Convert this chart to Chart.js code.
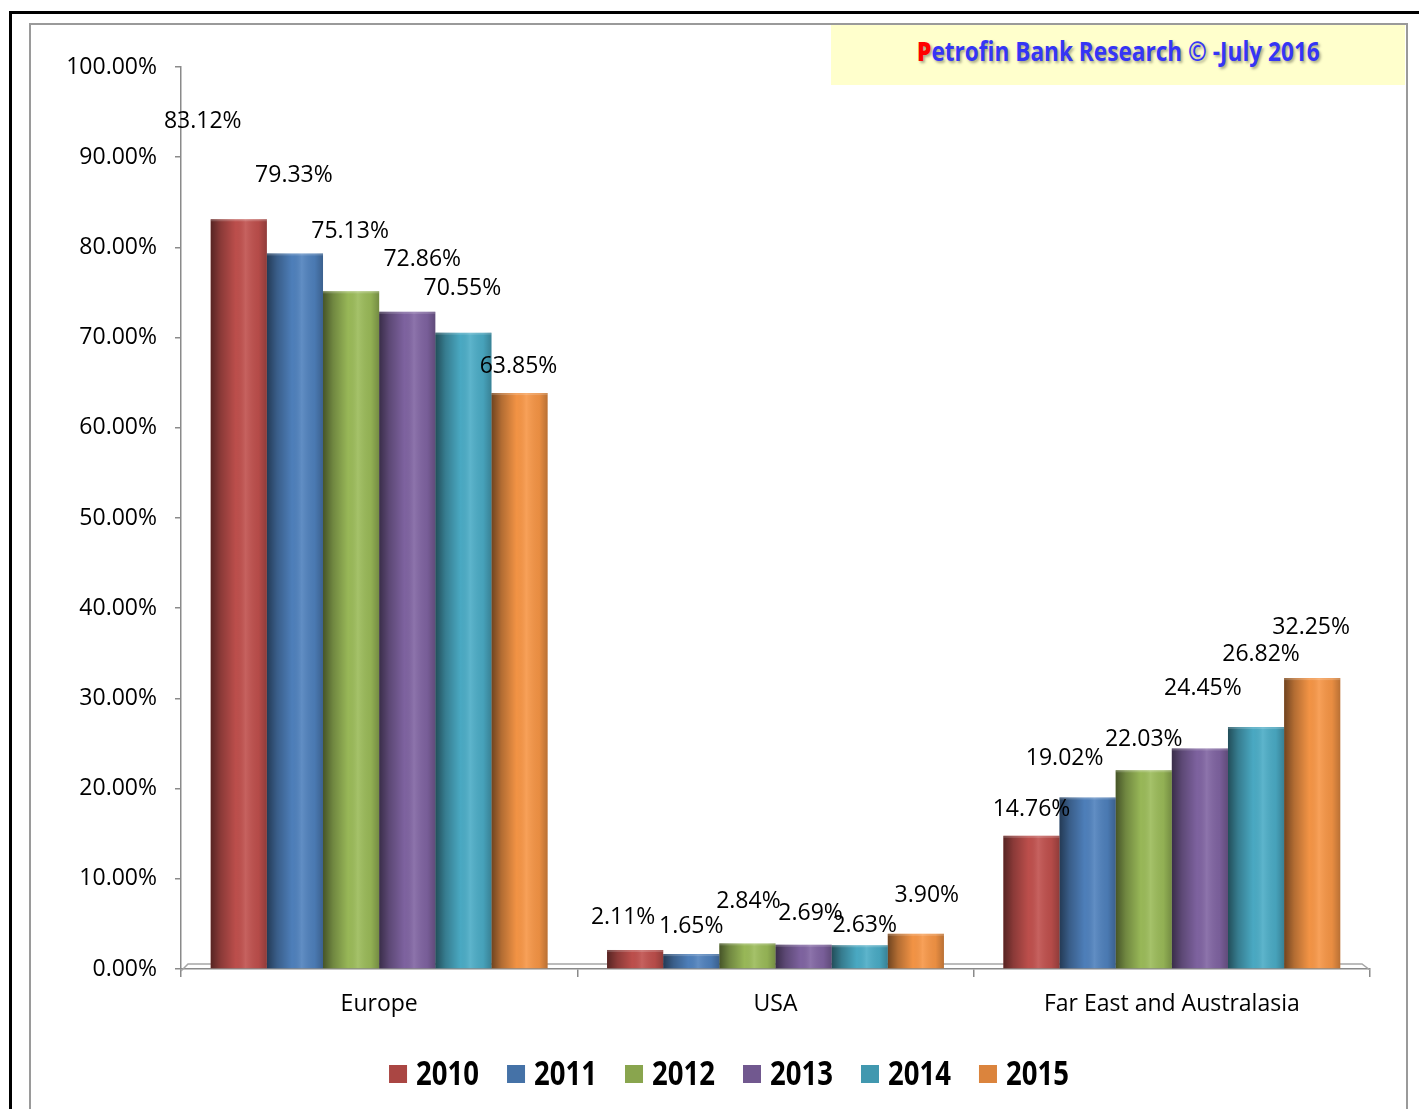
<!DOCTYPE html>
<html>
<head>
<meta charset="utf-8">
<script src="https://cdn.jsdelivr.net/npm/chart.js@4.4.1/dist/chart.umd.min.js"></script>
<style>
  html, body { margin: 0; padding: 0; background: #fff; overflow: hidden; }
  #frameOuter { position: absolute; left: 9px; top: 11px; width: 1500px; height: 1200px; border: 3px solid #000; box-sizing: border-box; }
  #frameInner { position: absolute; left: 29px; top: 23px; width: 1379px; height: 1200px; border: 2px solid #9a9a9a; box-sizing: border-box; }
  #banner { position: absolute; left: 831px; top: 25px; width: 574px; height: 60px; background: #ffffcc;
            display: flex; align-items: center; justify-content: center; box-sizing: border-box; }
  #banner span { font-family: "Open Sans", sans-serif; font-weight: bold; font-size: 26px; white-space: nowrap;
                 color: #3535f5; text-shadow: 2px 2px 3px rgba(0,0,0,0.35); position: relative; left: 0px; top: -4px;
                 display: inline-block; transform: scaleX(0.87); }
  #banner b { color: #ff0000; }
  #wrap { position: absolute; left: 0; top: 0; width: 1419px; height: 1109px; }
</style>
</head>
<body>
<div id="frameOuter"></div>
<div id="frameInner"></div>
<div id="wrap"><canvas id="shareChart"></canvas></div>
<div id="banner"><span><b>P</b>etrofin Bank Research © -July 2016</span></div>
<script>
// regions on the x axis
const regions = ['Europe', 'USA', 'Far East and Australasia'];
const years = ['2010', '2011', '2012', '2013', '2014', '2015'];

// share of each region per year (%)
const share2010 = [83.12, 2.11, 14.76];
const share2011 = [79.33, 1.65, 19.02];
const share2012 = [75.13, 2.84, 22.03];
const share2013 = [72.86, 2.69, 24.45];
const share2014 = [70.55, 2.63, 26.82];
const share2015 = [63.85, 3.90, 32.25];
const yTicks = [0, 10, 20, 30, 40, 50, 60, 70, 80, 90, 100];

// colours
const barColors = ['#c0504d', '#4f81bd', '#9bbb59', '#8064a2', '#4bacc6', '#f79646'];
const keyColors = ['#aa4643', '#4572a7', '#89a54e', '#71588f', '#4198af', '#db843d'];

// where each value label sits relative to the top centre of its bar [dx, dy]
const labelShift = [
  [[-36, -98], [-12, -33], [0, -26]],
  [[-1, -78], [0, -28], [-23, -39]],
  [[-1, -60], [1, -42], [0, -31]],
  [[15, -52], [7, -31], [3, -60]],
  [[-1, -44], [5, -20], [5, -73]],
  [[-1, -27], [11, -38], [-1, -51]]
];

const series = [share2010, share2011, share2012, share2013, share2014, share2015];
const FONT = '"Open Sans", sans-serif';

// 3D-ish floor under the bars
const floorPlugin = {
  id: 'floor',
  beforeDatasetsDraw(chart) {
    const { ctx, chartArea: a } = chart;
    const b = chart.scales.y.getPixelForValue(0);
    ctx.save();
    ctx.strokeStyle = '#a6a6a6';
    ctx.lineWidth = 1.5;
    ctx.beginPath();
    ctx.moveTo(a.left, b + 2);
    ctx.lineTo(a.left + 7, b - 5);
    ctx.lineTo(a.right - 8, b - 5);
    ctx.lineTo(a.right, b + 1);
    ctx.stroke();
    ctx.restore();
  }
};

// cylinder shading on top of every bar
const shadePlugin = {
  id: 'shade',
  afterDatasetsDraw(chart) {
    const ctx = chart.ctx;
    chart.data.datasets.forEach((ds, i) => {
      chart.getDatasetMeta(i).data.forEach(bar => {
        const x0 = bar.x - bar.width / 2, x1 = bar.x + bar.width / 2;
        const top = Math.min(bar.y, bar.base), h = Math.abs(bar.base - bar.y);
        const g = ctx.createLinearGradient(x0, 0, x1, 0);
        g.addColorStop(0, 'rgba(0,0,0,0.55)');
        g.addColorStop(0.18, 'rgba(0,0,0,0.28)');
        g.addColorStop(0.45, 'rgba(0,0,0,0.02)');
        g.addColorStop(0.62, 'rgba(255,255,255,0.10)');
        g.addColorStop(0.85, 'rgba(0,0,0,0.06)');
        g.addColorStop(1, 'rgba(0,0,0,0.25)');
        ctx.save();
        ctx.fillStyle = g;
        ctx.fillRect(x0, top, x1 - x0, h);
        // soft rim along the top
        ctx.fillStyle = 'rgba(255,255,255,0.18)';
        ctx.fillRect(x0, top, x1 - x0, 2);
        ctx.restore();
      });
    });
  }
};

// value labels
const valuePlugin = {
  id: 'values',
  afterDraw(chart) {
    const ctx = chart.ctx;
    ctx.save();
    ctx.font = '23px ' + FONT;
    ctx.fillStyle = '#000';
    ctx.textAlign = 'center';
    ctx.textBaseline = 'middle';
    chart.data.datasets.forEach((ds, i) => {
      chart.getDatasetMeta(i).data.forEach((bar, j) => {
        const [dx, dy] = labelShift[i][j];
        ctx.fillText(ds.data[j].toFixed(2) + '%', bar.x + dx, bar.y + dy);
      });
    });
    ctx.restore();
  }
};

// year key along the bottom (bold, horizontally squeezed)
const keyPlugin = {
  id: 'yearKey',
  afterDraw(chart) {
    const ctx = chart.ctx;
    const box = 18, gap = 9, spacing = 28, cy = 1074, squeeze = 0.81;
    ctx.save();
    ctx.font = 'bold 34px ' + FONT;
    ctx.textBaseline = 'middle';
    const widths = years.map(t => box + gap + ctx.measureText(t).width * squeeze);
    const total = widths.reduce((s, w) => s + w, 0) + spacing * (years.length - 1);
    let x = 729 - total / 2;
    years.forEach((t, i) => {
      ctx.fillStyle = keyColors[i];
      ctx.fillRect(x, cy - box / 2, box, box);
      ctx.save();
      ctx.translate(x + box + gap, cy + 1);
      ctx.scale(squeeze, 1);
      ctx.fillStyle = '#000';
      ctx.fillText(t, 0, 0);
      ctx.restore();
      x += widths[i] + spacing;
    });
    ctx.restore();
  }
};

new Chart(document.getElementById('shareChart'), {
  type: 'bar',
  data: {
    labels: regions,
    datasets: years.map((y, i) => ({
      label: y,
      data: series[i],
      backgroundColor: barColors[i],
      borderWidth: 0,
      barPercentage: 1,
      categoryPercentage: 0.85
    }))
  },
  options: {
    responsive: true,
    maintainAspectRatio: false,
    animation: false,
    layout: { padding: { top: 67, right: 49, left: 0, bottom: 80 } },
    plugins: { legend: { display: false }, tooltip: { enabled: false } },
    scales: {
      x: {
        afterFit: axis => { axis.height = 60; },
        grid: { display: true, drawOnChartArea: false, tickLength: 8, color: '#8a8a8a', lineWidth: 1.5, offset: true },
        border: { color: '#8a8a8a', width: 1.5 },
        ticks: { color: '#000', font: { family: FONT, size: 23 }, padding: 14 }
      },
      y: {
        min: 0,
        max: 100,
        afterFit: axis => { axis.width = 181; },
        afterBuildTicks: axis => { axis.ticks = yTicks.map(v => ({ value: v })); },
        grid: { display: true, drawOnChartArea: false, tickLength: 6, color: '#8a8a8a', lineWidth: 1.5 },
        border: { color: '#8a8a8a', width: 1.5 },
        ticks: { color: '#000', font: { family: FONT, size: 23 }, padding: 18, callback: v => v.toFixed(2) + '%' }
      }
    }
  },
  plugins: [floorPlugin, shadePlugin, valuePlugin, keyPlugin]
});
</script>
</body>
</html>
